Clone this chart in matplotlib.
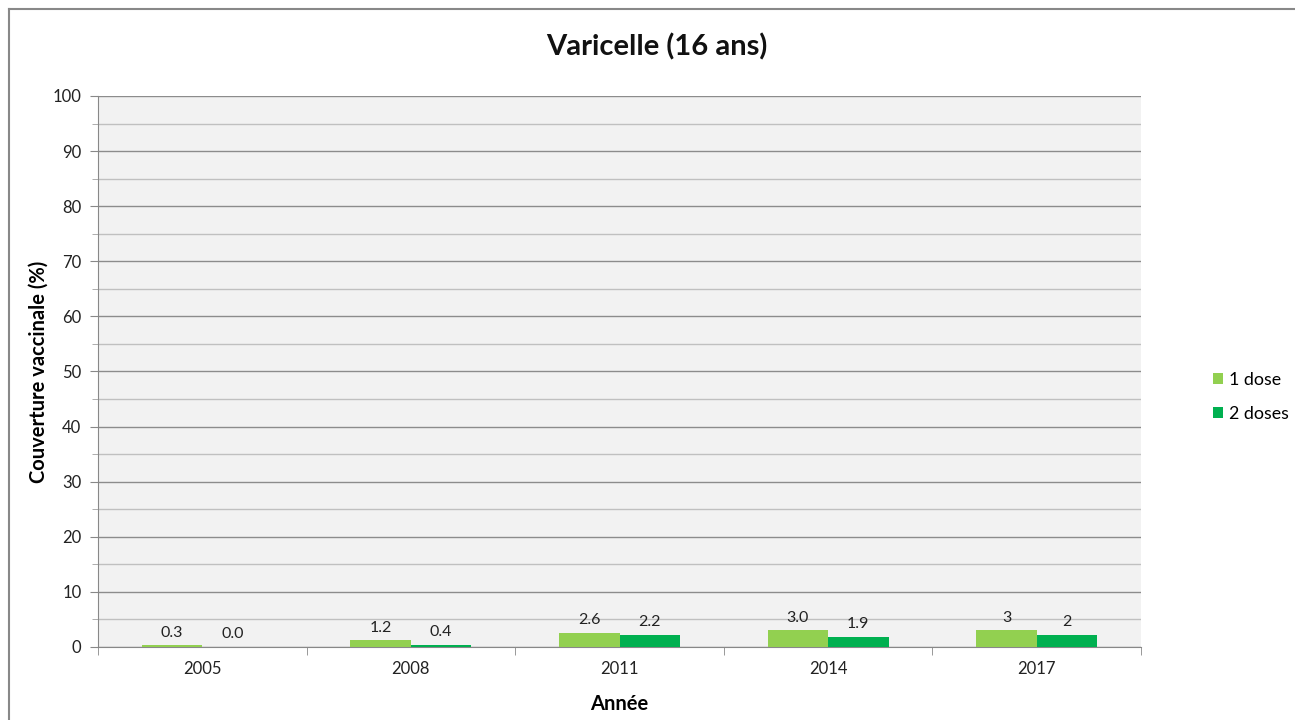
import matplotlib
matplotlib.use("Agg")
import matplotlib.pyplot as plt
import numpy as np
from matplotlib.lines import Line2D
from matplotlib.ticker import MultipleLocator, FixedLocator

plt.rcParams['font.family'] = ['Lato', 'DejaVu Sans']

years = ["2005", "2008", "2011", "2014", "2017"]
dose1 = [0.3, 1.2, 2.6, 3.0, 3.0]
dose2 = [0.0, 0.4, 2.2, 1.9, 2.2]
labels1 = ["0.3", "1.2", "2.6", "3.0", "3"]
labels2 = ["0.0", "0.4", "2.2", "1.9", "2"]
series_names = ["1 dose", "2 doses"]
colors = ["#92D050", "#00B050"]

fig = plt.figure(figsize=(12.95, 7.2), dpi=100)
ax = fig.add_axes([0.0757, 0.1014, 0.8054, 0.7653])
ax.set_facecolor("#F2F2F2")

x = np.arange(len(years))
w = 0.29
b1 = ax.bar(x - w/2, dose1, w, color=colors[0], label=series_names[0], zorder=3)
b2 = ax.bar(x + w/2, dose2, w, color=colors[1], label=series_names[1], zorder=3)

for bars, labs in ((b1, labels1), (b2, labels2)):
    for rect, lab in zip(bars, labs):
        ax.annotate(lab, (rect.get_x() + rect.get_width()/2, rect.get_height()),
                    xytext=(0, 4), textcoords="offset points",
                    ha="center", va="bottom", fontsize=11.5, color="#222222")

ax.set_xlim(-0.5, len(years) - 0.5)
ax.set_ylim(0, 100)
ax.yaxis.set_major_locator(MultipleLocator(10))
ax.yaxis.set_minor_locator(MultipleLocator(5))
ax.grid(axis="y", which="major", color="#8C8C8C", linewidth=1.0, zorder=0)
ax.grid(axis="y", which="minor", color="#C0C0C0", linewidth=1.0, zorder=0)
ax.set_axisbelow(True)

ax.set_xticks(x)
ax.set_xticklabels(years)
ax.xaxis.set_minor_locator(FixedLocator(np.arange(-0.5, len(years), 1.0)))
ax.tick_params(axis="x", which="major", length=0, labelsize=12, pad=10, colors="#222222")
ax.tick_params(axis="x", which="minor", length=6, color="#888888")
ax.tick_params(axis="y", which="major", length=6, labelsize=12, colors="#222222", pad=6)
ax.tick_params(axis="y", which="major", color="#888888")
ax.tick_params(axis="y", which="minor", length=4, color="#A0A0A0")

for s in ("top", "right"):
    ax.spines[s].set_visible(False)
for s in ("left", "bottom"):
    ax.spines[s].set_color("#888888")

fig.text(657/1295, 1 - 47/720, "Varicelle (16 ans)", fontsize=21, fontweight="bold",
         color="#111111", ha="center", va="center")
ax.set_xlabel("Année", fontsize=14.5, fontweight="bold", labelpad=12)
ax.set_ylabel("Couverture vaccinale (%)", fontsize=14.5, fontweight="bold", labelpad=3)

leg = fig.legend(handles=[b1, b2], labels=series_names, loc="center left",
                 bbox_to_anchor=(0.924, 0.449), frameon=False, fontsize=12.8,
                 handlelength=0.6, handleheight=0.6, handletextpad=0.3,
                 labelspacing=1.0)

fig.add_artist(Line2D([9/1295, 1.0], [1 - 9/720, 1 - 9/720], transform=fig.transFigure,
                      color="#888888", linewidth=1.5))
fig.add_artist(Line2D([9/1295, 9/1295], [0.0, 1 - 9/720], transform=fig.transFigure,
                      color="#888888", linewidth=1.5))

fig.savefig("out.png", dpi=100, facecolor="white")
